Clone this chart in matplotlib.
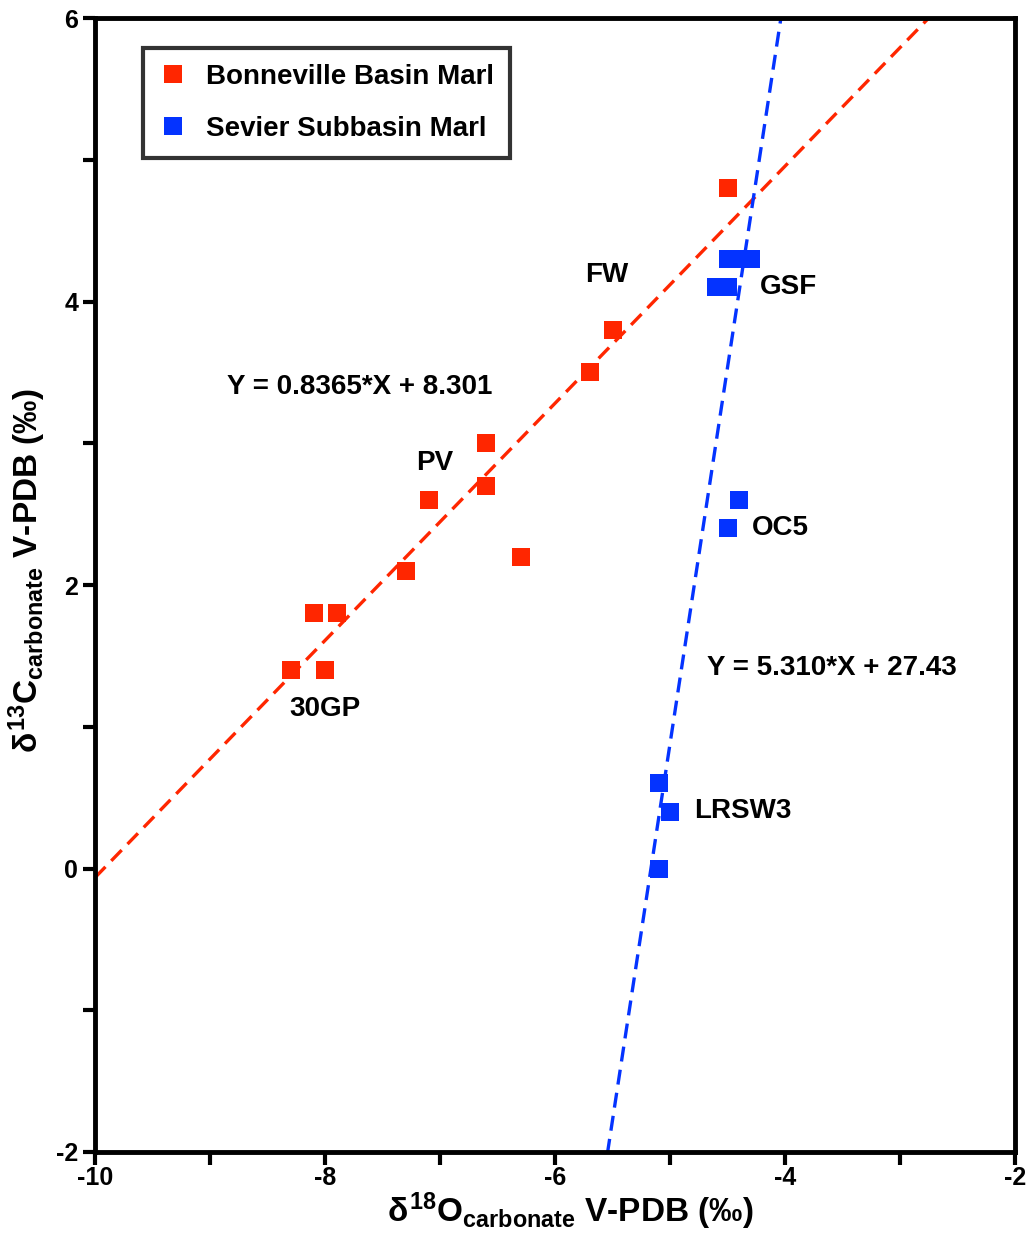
import numpy as np
import matplotlib
matplotlib.use('Agg')
import matplotlib.pyplot as plt

plt.rcParams['font.family'] = ['Liberation Sans', 'DejaVu Sans']
plt.rcParams['font.weight'] = 'bold'
plt.rcParams['axes.unicode_minus'] = False
plt.rcParams['mathtext.fontset'] = 'custom'
plt.rcParams['mathtext.rm'] = 'Liberation Sans:bold'
plt.rcParams['mathtext.it'] = 'Liberation Sans:bold'
plt.rcParams['mathtext.bf'] = 'Liberation Sans:bold'

# Bonneville Basin marl
bonn_x = [-4.5, -5.5, -5.7, -6.6, -6.6, -7.1, -6.3, -7.3, -8.1, -7.9, -8.3, -8.0]
bonn_y = [4.8, 3.8, 3.5, 3.0, 2.7, 2.6, 2.2, 2.1, 1.8, 1.8, 1.4, 1.4]

# Sevier Subbasin marl
sev_x = [-4.5, -4.4, -4.3, -4.6, -4.5, -4.4, -4.5, -5.1, -5.0, -5.1]
sev_y = [4.3, 4.3, 4.3, 4.1, 4.1, 2.6, 2.4, 0.6, 0.4, 0.0]

# regression lines (slope, intercept)
bonn_fit = (0.8365, 8.301)
sev_fit = (5.310, 27.43)

labels = [("FW", -5.55, 4.19), ("GSF", -3.97, 4.10), ("PV", -7.05, 2.86),
          ("OC5", -4.04, 2.40), ("30GP", -8.0, 1.125), ("LRSW3", -4.37, 0.405)]
eq_labels = [("Y = 0.8365*X + 8.301", -7.70, 3.40), ("Y = 5.310*X + 27.43", -3.59, 1.415)]

red = '#ff2600'
blue = '#0433ff'

fig = plt.figure(figsize=(10.26, 12.45), dpi=100)
ax = fig.add_axes([0.0926, 0.0747, 0.8967, 0.9108])

xx = np.linspace(-10, -2, 400)
ax.plot(xx, bonn_fit[0] * xx + bonn_fit[1], color=red, lw=2.4, ls=(0, (4.5, 2.5)), zorder=2)
ax.plot(xx, sev_fit[0] * xx + sev_fit[1], color=blue, lw=2.4, ls=(0, (4.5, 2.5)), zorder=2)

ax.plot(bonn_x, bonn_y, 's', color=red, ms=13, mew=0, ls='none',
        label='Bonneville Basin Marl', zorder=3)
ax.plot(sev_x, sev_y, 's', color=blue, ms=13, mew=0, ls='none',
        label='Sevier Subbasin Marl', zorder=3)

for t, x, y in labels + eq_labels:
    ax.text(x, y, t, fontsize=20, fontweight='bold', ha='center', va='center')

ax.set_xlim(-10, -2)
ax.set_ylim(-2, 6)
ax.set_xticks([-10, -8, -6, -4, -2])
ax.set_yticks([-2, 0, 2, 4, 6])
ax.set_xticks(np.arange(-10, -1, 1), minor=True)
ax.set_yticks(np.arange(-2, 7, 1), minor=True)
ax.tick_params(which='both', direction='out', width=3, length=9, labelsize=18)
ax.tick_params(axis='x', pad=1)
ax.tick_params(axis='y', pad=3)
for s in ax.spines.values():
    s.set_linewidth(3.5)

ax.set_xlabel(r'$\delta^{18}$O$_{carbonate}$ V-PDB (‰)', fontsize=24, fontweight='bold')
ax.set_ylabel(r'$\delta^{13}$C$_{carbonate}$ V-PDB (‰)', fontsize=24, fontweight='bold')
ax.xaxis.set_label_coords(0.517, -0.034)
ax.yaxis.set_label_coords(-0.051, 0.513)

leg = ax.legend(loc='upper left', bbox_to_anchor=(0.052, 0.974), fontsize=20,
                frameon=True, fancybox=False, edgecolor='black', borderpad=0.58,
                handlelength=1.0, handletextpad=0.7, labelspacing=0.95,
                borderaxespad=0)
leg.get_frame().set_linewidth(3)

fig.savefig('out.png', dpi=100)
